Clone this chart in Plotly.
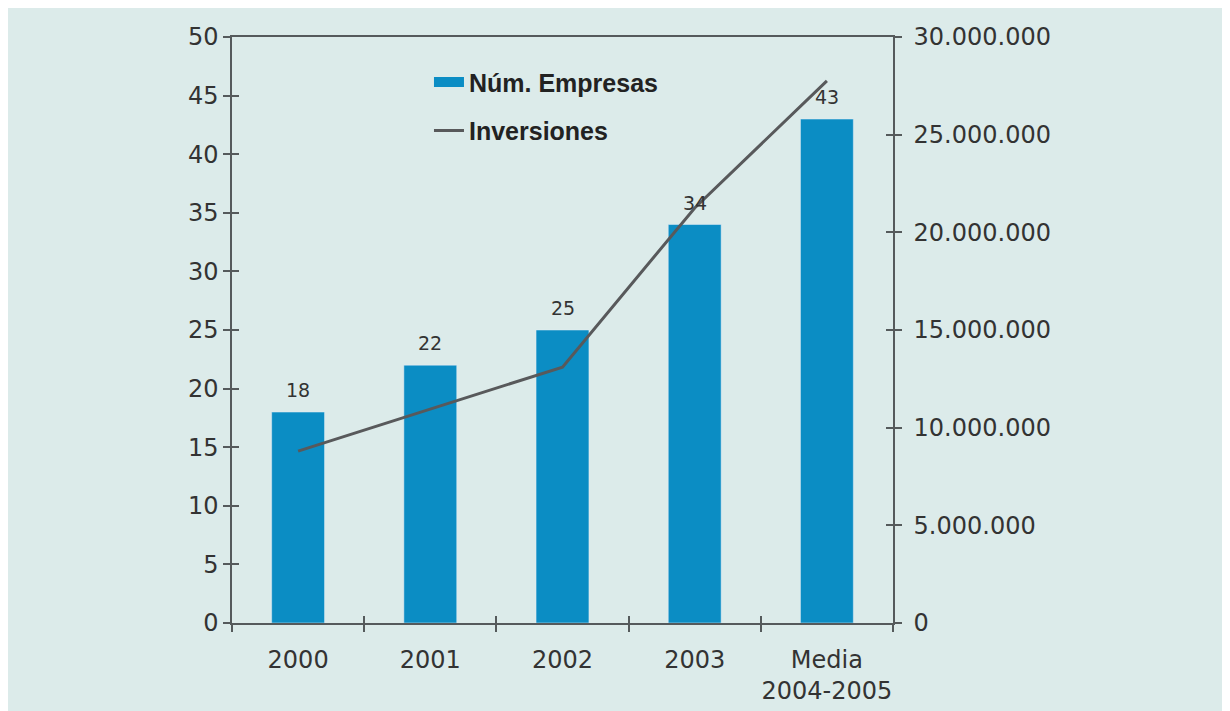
import plotly.graph_objects as go

categories = ["2000", "2001", "2002", "2003", "Media<br>2004-2005"]
num_empresas = [18, 22, 25, 34, 43]
inversiones = [8800000, 10950000, 13100000, 21250000, 27750000]

left_ticks = list(range(0, 51, 5))
right_ticks = [0, 5000000, 10000000, 15000000, 20000000, 25000000, 30000000]
right_labels = ["0", "5.000.000", "10.000.000", "15.000.000", "20.000.000", "25.000.000", "30.000.000"]

BG = "#dcebea"
BAR = "#0b8dc4"
LINE = "#58595b"
AXIS = "#555a5c"
TXT = "#333333"
FONT = "DejaVu Sans"
INNER = AXIS

fig = go.Figure()

fig.add_trace(go.Bar(x=categories, y=num_empresas, marker_color=BAR, width=0.4,
                     showlegend=False, hoverinfo="skip"))
# legend entry for bars (wide flat swatch)
fig.add_trace(go.Scatter(x=categories, y=[None] * len(categories), mode="lines",
                         line=dict(color=BAR, width=10), name="Núm. Empresas",
                         legendgroup="a", showlegend=True))
fig.add_trace(go.Scatter(x=categories, y=inversiones, mode="lines", yaxis="y2",
                         line=dict(color=LINE, width=3), name="Inversiones",
                         legendgroup="b"))
# invisible helpers for inward tick marks
fig.add_trace(go.Scatter(x=categories, y=num_empresas, xaxis="x2", yaxis="y", mode="markers",
                         marker=dict(opacity=0), showlegend=False, hoverinfo="skip"))
fig.add_trace(go.Scatter(x=categories, y=num_empresas, yaxis="y3", mode="markers",
                         marker=dict(opacity=0), showlegend=False, hoverinfo="skip"))
fig.add_trace(go.Scatter(x=categories, y=inversiones, yaxis="y4", mode="markers",
                         marker=dict(opacity=0), showlegend=False, hoverinfo="skip"))

annotations = []
for i, v in enumerate(num_empresas):
    annotations.append(dict(x=i, xref="x", y=v, yref="y", text=str(v), showarrow=False,
                            yanchor="bottom", yshift=9,
                            font=dict(family=FONT, size=19, color=TXT)))

tickfont = dict(family=FONT, size=24, color=TXT)
fig.update_layout(
    width=1230, height=711,
    margin=dict(l=224, r=345, t=29, b=96, autoexpand=False),
    paper_bgcolor=BG, plot_bgcolor=BG,
    bargap=0.6,
    annotations=annotations,
    legend=dict(x=0.298, y=0.962, xanchor="left", yanchor="top", bgcolor="rgba(0,0,0,0)",
                font=dict(family="Liberation Sans", size=25, color="#222222", weight="bold"),
                traceorder="grouped", tracegroupgap=13, itemwidth=30),
    xaxis=dict(type="category", categoryarray=categories, range=[-0.5, 4.5], tickangle=0,
               showline=True, linecolor=AXIS, linewidth=1.5, mirror=True, automargin=False,
               ticks="outside", ticklen=7, tickcolor=AXIS, tickwidth=1.5, tickson="boundaries",
               tickfont=tickfont, showgrid=False, zeroline=False, ticklabelstandoff=14),
    xaxis2=dict(type="category", categoryarray=categories, range=[-0.5, 4.5], overlaying="x",
                anchor="y", side="bottom", showline=False, ticks="inside", ticklen=7,
                tickcolor=INNER, tickwidth=1.5, tickson="boundaries", showticklabels=False,
                showgrid=False, zeroline=False),
    yaxis=dict(range=[0, 50], tickvals=left_ticks, showline=True, linecolor=AXIS, linewidth=1.5,
               ticks="outside", ticklen=7, tickcolor=AXIS, tickwidth=1.5, tickfont=tickfont,
               showgrid=False, zeroline=False, automargin=False),
    yaxis2=dict(range=[0, 30000000], overlaying="y", side="right", anchor="x",
                tickvals=right_ticks, ticktext=right_labels, showline=True, linecolor=AXIS,
                linewidth=1.5, ticks="outside", ticklen=7, tickcolor=AXIS, tickwidth=1.5,
                tickfont=tickfont, showgrid=False, zeroline=False, automargin=False,
                ticklabelstandoff=7),
    yaxis3=dict(range=[0, 50], overlaying="y", side="left", anchor="x", tickvals=left_ticks,
                ticks="inside", ticklen=7, tickcolor=INNER, tickwidth=1.5, showticklabels=False,
                showgrid=False, zeroline=False, showline=False),
    yaxis4=dict(range=[0, 30000000], overlaying="y", side="right", anchor="x",
                tickvals=right_ticks, ticks="inside", ticklen=7, tickcolor=INNER, tickwidth=1.5,
                showticklabels=False, showgrid=False, zeroline=False, showline=False),
)

fig.write_html("out.html")
